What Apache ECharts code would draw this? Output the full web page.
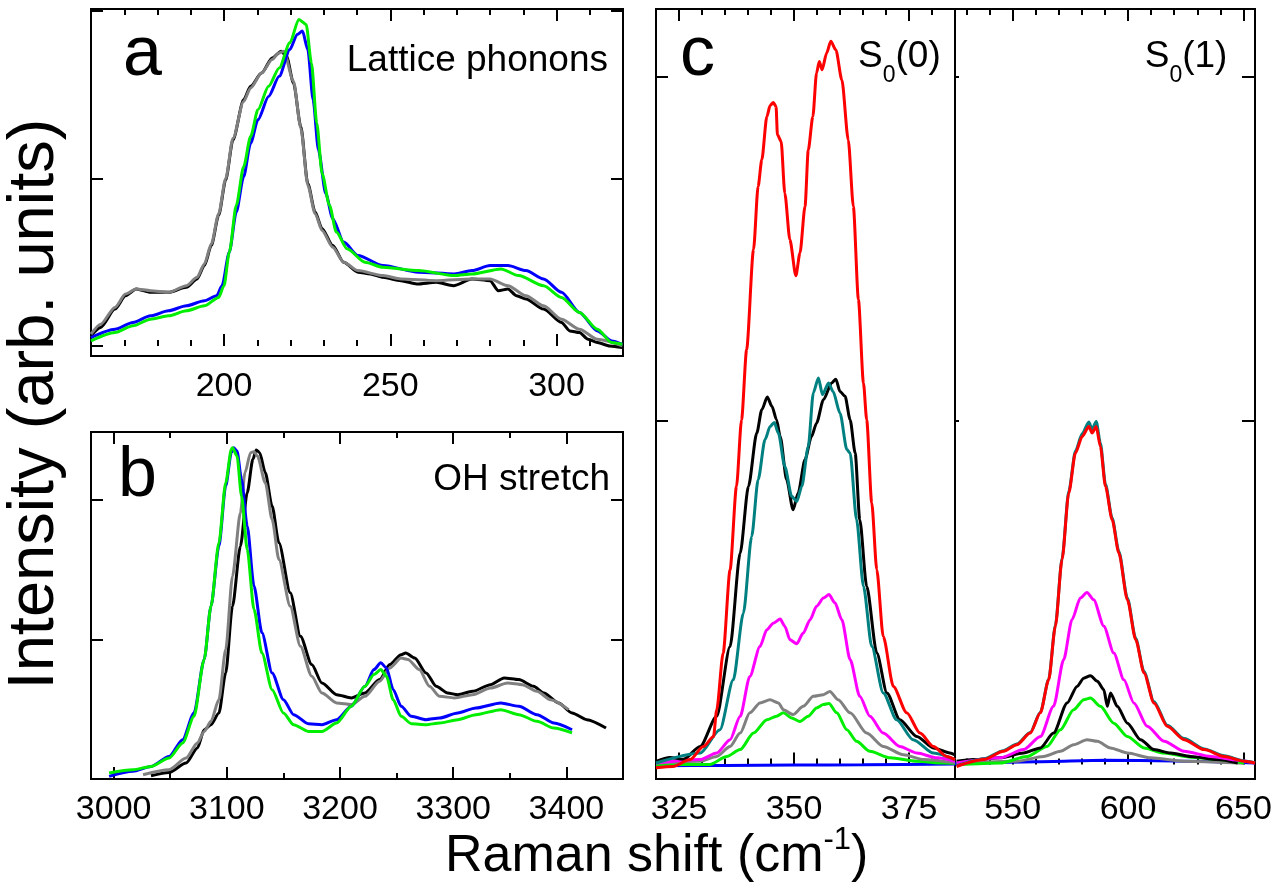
<!DOCTYPE html>
<html><head><meta charset="utf-8">
<script src="https://cdn.jsdelivr.net/npm/echarts@6/dist/echarts.min.js"></script>
<style>html,body{margin:0;padding:0;background:#fff}#c{width:1285px;height:894px}</style>
</head><body><div id="c"></div>
<script>
// ---------- Panel a : Lattice phonons ----------
const aTicksMajor = [200, 250, 300];
const aTicksMinor = [170, 180, 190, 210, 220, 230, 240, 260, 270, 280, 290, 310];
const aBlackX = [160,162.9,167.2,170.4,173.6,177.9,183.3,188.7,191.9,194.1,196.2,198.4,200.5,202.7,205.9,208.0,211.3,214.5,217.2,218.8,220.9,223.1,225.2,227.4,229.5,232.7,236.0,240.3,244.0,247.8,253.2,258.0,263.9,269.0,274.6,280.0,282.5,285.4,288.0,290.8,296.1,301.5,304.0,306.9,309.5,312.3,316.0,319.8];
const aBlackY = [0.06,0.11,0.22,0.30,0.34,0.32,0.32,0.35,0.40,0.48,0.60,0.78,0.99,1.23,1.47,1.55,1.63,1.72,1.76,1.73,1.57,1.31,0.97,0.80,0.70,0.60,0.50,0.44,0.43,0.41,0.39,0.37,0.38,0.36,0.40,0.39,0.33,0.34,0.30,0.28,0.22,0.14,0.09,0.08,0.04,0.02,0.00,-0.01];
const aGrayX = [160,162.9,167.2,170.4,173.6,177.9,183.3,188.7,191.9,194.1,196.2,198.4,200.5,202.7,205.9,208.0,211.3,214.5,216.5,218.0,220.9,223.1,225.2,227.4,229.5,232.7,236.0,240.3,247.8,253.2,263.9,274.6,280.0,285.4,290.8,296.1,301.5,306.9,312.3,319.8];
const aGrayY = [0.07,0.13,0.23,0.31,0.34,0.33,0.32,0.36,0.41,0.49,0.61,0.79,1.00,1.24,1.46,1.54,1.63,1.71,1.75,1.76,1.58,1.30,0.96,0.79,0.69,0.59,0.50,0.45,0.42,0.40,0.39,0.40,0.40,0.36,0.30,0.24,0.16,0.10,0.04,0.00];
const aBlueX = [160,167.2,172.6,177.9,183.3,188.7,194.1,197.8,199.4,201.6,203.7,205.9,208.0,210.2,213.4,216.6,219.8,222.0,223.6,225.2,226.8,228.4,230.6,232.7,236.0,240.3,247.8,258.5,269.3,274.6,280.0,285.4,290.8,296.1,301.5,306.9,312.3,316.6,319.8];
const aBlueY = [0.05,0.10,0.14,0.18,0.21,0.24,0.27,0.30,0.36,0.56,0.80,1.01,1.21,1.35,1.49,1.61,1.77,1.86,1.88,1.77,1.47,1.17,0.91,0.76,0.62,0.54,0.48,0.44,0.43,0.45,0.48,0.48,0.45,0.40,0.32,0.20,0.09,0.03,0.01];
const aGreenX = [160,167.2,172.6,177.9,183.3,188.7,194.1,198.4,200.0,201.6,203.7,205.9,208.0,210.2,213.4,216.6,219.8,222.5,224.7,226.3,227.9,229.5,231.7,233.8,237.0,242.4,247.8,258.5,269.3,274.6,283.3,288.6,296.1,301.5,306.9,312.3,316.6,319.8];
const aGreenY = [0.03,0.08,0.12,0.16,0.18,0.21,0.24,0.29,0.36,0.56,0.84,1.07,1.25,1.41,1.55,1.66,1.81,1.95,1.92,1.69,1.33,1.03,0.84,0.68,0.58,0.50,0.47,0.45,0.42,0.43,0.46,0.42,0.36,0.29,0.20,0.10,0.02,0.01];

// ---------- Panel b : OH stretch ----------
const bTicksMajor = [3000, 3100, 3200, 3300, 3400];
const bTicksMinor = [3050, 3150, 3250, 3350];
const bBlackX = [3033,3049,3064,3074,3080,3086,3093,3099,3105,3112,3118,3123,3126,3129,3134,3140,3146,3156,3165,3175,3184,3197,3210,3222,3235,3244,3254,3258,3266,3276,3285,3295,3304,3317,3333,3345,3358,3371,3380,3393,3405,3418,3435];
const bBlackY = [0.023,0.047,0.114,0.222,0.353,0.389,0.473,0.760,1.238,1.668,2.051,2.290,2.357,2.338,2.194,1.955,1.692,1.334,1.023,0.820,0.688,0.604,0.581,0.616,0.712,0.820,0.891,0.903,0.867,0.760,0.664,0.616,0.604,0.628,0.676,0.724,0.712,0.664,0.616,0.545,0.473,0.425,0.365];
const bGrayX = [3026,3049,3064,3074,3080,3086,3093,3099,3105,3112,3116,3121,3124,3127,3134,3140,3146,3156,3165,3175,3184,3197,3210,3222,3235,3244,3254,3260,3270,3279,3288,3301,3317,3333,3348,3361,3374,3386,3402];
const bGrayY = [0.030,0.066,0.150,0.258,0.341,0.413,0.569,0.927,1.453,1.907,2.194,2.338,2.345,2.314,2.123,1.860,1.573,1.238,0.951,0.736,0.616,0.545,0.533,0.592,0.700,0.796,0.867,0.856,0.784,0.664,0.592,0.581,0.604,0.652,0.688,0.676,0.628,0.568,0.497];
const bBlueX = [2996,3017,3033,3049,3061,3071,3080,3086,3093,3099,3104,3106,3109,3113,3118,3124,3131,3140,3150,3159,3172,3184,3197,3210,3222,3230,3236,3241,3247,3254,3263,3276,3288,3304,3320,3342,3358,3374,3389,3405];
const bBlueY = [0.019,0.055,0.090,0.162,0.282,0.473,0.856,1.238,1.668,2.099,2.338,2.374,2.350,2.147,1.812,1.382,1.047,0.760,0.568,0.461,0.396,0.389,0.425,0.521,0.664,0.784,0.832,0.796,0.640,0.521,0.449,0.425,0.437,0.473,0.509,0.545,0.521,0.461,0.401,0.353];
const bGreenX = [2996,3017,3033,3049,3061,3071,3080,3086,3093,3099,3104,3105,3109,3113,3118,3124,3131,3140,3150,3159,3172,3184,3197,3210,3222,3230,3236,3241,3247,3254,3263,3276,3288,3304,3320,3342,3358,3374,3389,3405];
const bGreenY = [0.043,0.066,0.090,0.150,0.258,0.449,0.856,1.238,1.692,2.123,2.362,2.374,2.314,2.027,1.645,1.214,0.903,0.640,0.473,0.389,0.341,0.341,0.401,0.521,0.664,0.748,0.784,0.736,0.568,0.449,0.396,0.389,0.401,0.425,0.461,0.497,0.461,0.413,0.365,0.330];

// ---------- Panel c, left : S0(0) ----------
const c1TicksMajor = [325, 350, 375];
const c1TicksMinor = [330, 335, 340, 345, 355, 360, 365, 370, 380];
const c1RedX = [320,323.7,327.4,330.3,332.5,333.2,334.6,336.1,337.5,338.6,339.7,341.2,342.2,343.0,344.1,344.8,345.5,346.1,346.4,347.2,348.0,349.1,350.4,351.3,352.4,353.1,354.1,354.9,355.5,356.1,357.1,358.0,359.1,360.4,361.8,362.9,364.0,365.1,365.8,366.9,368.0,369.4,371.6,374.5,377.4,380.3,383.2,385];
const c1RedY = [-0.010,-0.006,0.014,0.052,0.081,0.159,0.324,0.566,0.809,1.003,1.207,1.498,1.682,1.759,1.885,1.917,1.926,1.914,1.832,1.813,1.662,1.527,1.422,1.488,1.624,1.788,1.885,2.012,2.045,2.021,2.070,2.104,2.079,1.992,1.817,1.624,1.353,1.110,1.003,0.761,0.566,0.372,0.227,0.150,0.091,0.052,0.023,0.014];
const c1BlackX = [320,323,326,329.6,333.2,336.1,338.3,340.1,341.9,343.0,344.2,345.2,346.2,347.0,348.4,349.8,350.9,352.4,353.8,354.9,356.4,358.2,359.1,360.0,361.1,362.2,363.3,364.3,365.8,368.0,370.2,373.0,376.7,380.3,383.9,385];
const c1BlackY = [0.009,0.020,0.015,0.052,0.140,0.343,0.615,0.809,0.964,1.032,1.069,1.042,1.003,0.954,0.828,0.741,0.790,0.887,0.954,0.993,1.061,1.110,1.121,1.085,1.071,1.003,0.906,0.712,0.518,0.324,0.208,0.130,0.081,0.048,0.033,0.028];
const c1TealX = [320,329.6,333.9,336.8,339.0,340.8,342.2,343.7,344.8,345.7,346.6,348.0,349.5,350.6,351.7,353.1,354.2,355.3,356.2,357.5,358.5,360.0,361.5,362.2,363.6,365.1,366.9,369.4,372.3,375.9,380.3,385];
const c1TealY = [0.004,0.033,0.101,0.246,0.440,0.663,0.828,0.945,0.983,0.995,0.964,0.867,0.780,0.765,0.809,0.925,1.081,1.124,1.076,1.110,1.085,1.022,0.916,0.906,0.712,0.518,0.343,0.208,0.130,0.072,0.033,0.014];
const c1MagentaX = [320,329.6,333.2,336.1,338.3,340.4,342.6,344.1,345.5,347.0,348.0,349.1,350.6,352.0,353.5,354.9,356.4,357.6,358.9,360.4,362.2,364.3,366.5,369.4,373.0,376.7,381.1,385];
const c1MagentaY = [0.004,0.014,0.033,0.072,0.140,0.256,0.343,0.392,0.411,0.423,0.402,0.363,0.351,0.382,0.421,0.460,0.484,0.494,0.470,0.421,0.305,0.198,0.140,0.091,0.052,0.033,0.019,0.009];
const c1GrayX = [320,329.6,333.2,336.1,338.3,340.4,342.6,344.8,346.6,347.7,349.8,352.0,354.2,356.4,357.8,359.6,362.2,365.8,369.4,373.8,378.1,385];
const c1GrayY = [0.004,0.009,0.023,0.052,0.091,0.150,0.179,0.188,0.179,0.159,0.145,0.169,0.198,0.203,0.212,0.188,0.150,0.091,0.052,0.028,0.014,0.004];
const c1GreenX = [320,331.7,335.4,338.3,341.2,344.1,346.2,347.7,349.5,351.3,353.1,354.9,356.4,357.6,359.3,361.5,363.6,366.5,370.9,376.7,382.5,385];
const c1GreenY = [-0.001,0.000,0.023,0.043,0.091,0.130,0.140,0.150,0.135,0.125,0.140,0.164,0.174,0.177,0.150,0.101,0.067,0.038,0.019,0.009,0.004,0.003];
const c1BlueX = [320,335,350,365,385];
const c1BlueY = [-0.004,-0.003,-0.002,-0.001,0.001];

// ---------- Panel c, right : S0(1) ----------
const c2TicksMajor = [550, 600, 650];
const c2TicksMinor = [530, 540, 560, 570, 580, 590, 610, 620, 630, 640];
const c2RedX = [525.7,537.3,546.0,551.8,557.6,562.0,565.6,568.5,571.4,574.3,577.2,580.1,583.0,584.4,586.2,588.0,590.2,593.1,596.0,599.7,603.3,606.9,611.2,617.0,624.3,633.0,641.7,650.3,655];
const c2RedY = [-0.006,0.014,0.038,0.057,0.091,0.150,0.246,0.402,0.596,0.790,0.906,0.954,0.983,0.964,0.983,0.925,0.809,0.712,0.615,0.479,0.363,0.266,0.179,0.111,0.072,0.043,0.023,0.009,0.004];
const c2TealX = [525.7,537.3,546.0,551.8,557.6,562.0,565.6,568.5,571.4,574.3,577.2,580.1,583.0,584.4,586.2,588.0,590.2,593.1,596.0,599.7,603.3,606.9,611.2,617.0,624.3,633.0,641.7,650.3,655];
const c2TealY = [-0.004,0.016,0.040,0.059,0.093,0.152,0.248,0.405,0.600,0.795,0.912,0.962,0.996,0.975,0.998,0.935,0.816,0.717,0.620,0.484,0.367,0.270,0.183,0.114,0.075,0.045,0.025,0.010,0.005];
const c2MagentaX = [525.7,544.6,554.7,562.0,567.7,572.1,575.7,579.3,582.2,585.1,589.5,593.8,598.2,602.5,608.3,615.6,624.3,635.9,647.5,655];
const c2MagentaY = [0.004,0.019,0.043,0.081,0.169,0.305,0.421,0.484,0.500,0.479,0.402,0.324,0.246,0.179,0.111,0.067,0.038,0.023,0.012,0.004];
const c2BlackX = [525.7,533.0,544.6,554.7,562.0,567.7,573.6,577.9,580.8,583.7,586.7,589.5,591.0,592.4,595.3,599.7,605.4,611.2,618.5,627.2,638.8,647.5];
const c2BlackY = [0.009,0.014,0.019,0.033,0.048,0.091,0.179,0.227,0.251,0.258,0.242,0.217,0.169,0.208,0.169,0.120,0.072,0.043,0.033,0.023,0.014,0.004];
const c2GreenX = [525.7,544.6,556.2,564.9,570.7,576.4,580.8,583.7,588.0,593.8,599.7,606.9,615.6,627.2,638.8,650.3];
const c2GreenY = [-0.001,0.004,0.023,0.052,0.101,0.159,0.188,0.193,0.169,0.120,0.081,0.048,0.033,0.021,0.014,0.004];
const c2GrayX = [525.7,551.8,563.4,570.7,576.4,582.2,586.7,592.4,599.7,609.8,624.3,650.3];
const c2GrayY = [0.004,0.009,0.023,0.038,0.057,0.072,0.067,0.048,0.033,0.019,0.009,0.003];
const c2BlueX = [525,560,590,620,655];
const c2BlueY = [0.002,0.008,0.012,0.010,0.004];

// ---------- chart ----------
const FONT = '"Liberation Sans", Arial, Helvetica, sans-serif';
const K = '#000';
const COL = {black:'#000000', gray:'#808080', blue:'#0000ff', green:'#00ee00', red:'#ff0000', magenta:'#ff00ff', teal:'#008080'};

const chart = echarts.init(document.getElementById('c'), null, {renderer:'canvas', width:1285, height:894});

const grids = [
  {left:91, top:9, width:532, height:347},
  {left:91, top:432, width:532, height:347},
  {left:656, top:9, width:299, height:770},
  {left:955, top:9, width:300, height:770}
].map(g => Object.assign(g, {show:true, borderColor:K, borderWidth:2, backgroundColor:'transparent', containLabel:false, outerBoundsMode:'none'}));

const xAxes = [], yAxes = [];
function xAx(grid, min, max, pos, ticks, len, labels) {
  xAxes.push({type:'value', gridIndex:grid, min:min, max:max, position:pos,
    axisLine:{show:false}, splitLine:{show:false},
    axisTick:{show:true, inside:true, length:len, customValues:ticks, lineStyle:{color:K, width:2}},
    axisLabel: labels ? {show:true, customValues:labels, margin:14, color:K, fontSize:34, fontFamily:FONT, formatter: v => String(v)} : {show:false}
  });
  return xAxes.length - 1;
}
function yAx(grid, min, max, pos, ticks, len) {
  yAxes.push({type:'value', gridIndex:grid, min:min, max:max, position:pos,
    axisLine:{show:false}, splitLine:{show:false},
    axisTick:{show:ticks.length > 0, inside:true, length:len, customValues:ticks.length ? ticks : undefined, lineStyle:{color:K, width:2}},
    axisLabel:{show:false}
  });
  return yAxes.length - 1;
}
function panel(grid, xr, yr, major, minor, yticks, yLeftLen, yRightLen) {
  const xi = xAx(grid, xr[0], xr[1], 'bottom', major, 12, major);
  xAx(grid, xr[0], xr[1], 'bottom', minor, 6, null);
  xAx(grid, xr[0], xr[1], 'top', major, 12, null);
  xAx(grid, xr[0], xr[1], 'top', minor, 6, null);
  const yi = yAx(grid, yr[0], yr[1], 'left', yLeftLen ? yticks : [], yLeftLen);
  yAx(grid, yr[0], yr[1], 'right', yRightLen ? yticks : [], yRightLen);
  return [xi, yi];
}
const pA = panel(0, [160, 320], [-0.06, 2.012], aTicksMajor, aTicksMinor, [0, 1, 2], 12, 12);
const pB = panel(1, [2980, 3450], [0, 2.486], bTicksMajor, bTicksMinor, [1, 2], 12, 12);
const pC1 = panel(2, [320, 385], [-0.0425, 2.198], c1TicksMajor, c1TicksMinor, [1, 2], 12, 0);
const pC2 = panel(3, [525, 655], [-0.0425, 2.198], c2TicksMajor, c2TicksMinor, [1, 2], 4, 13);

function zip(xs, ys) { const n = Math.min(xs.length, ys.length), d = []; for (let i = 0; i < n; i++) d.push([xs[i], ys[i]]); return d; }
const series = [];
function line(p, xs, ys, color) {
  series.push({type:'line', data:zip(xs, ys), xAxisIndex:p[0], yAxisIndex:p[1], showSymbol:false, symbol:'none',
    smooth:0.25, smoothMonotone:'x', lineStyle:{color:color, width:3}, silent:true, animation:false});
}
line(pA, aBlackX, aBlackY, COL.black);
line(pA, aGrayX, aGrayY, COL.gray);
line(pA, aBlueX, aBlueY, COL.blue);
line(pA, aGreenX, aGreenY, COL.green);

line(pB, bBlackX, bBlackY, COL.black);
line(pB, bGrayX, bGrayY, COL.gray);
line(pB, bBlueX, bBlueY, COL.blue);
line(pB, bGreenX, bGreenY, COL.green);

line(pC1, c1BlueX, c1BlueY, COL.blue);
line(pC1, c1GreenX, c1GreenY, COL.green);
line(pC1, c1GrayX, c1GrayY, COL.gray);
line(pC1, c1MagentaX, c1MagentaY, COL.magenta);
line(pC1, c1BlackX, c1BlackY, COL.black);
line(pC1, c1TealX, c1TealY, COL.teal);
line(pC1, c1RedX, c1RedY, COL.red);

line(pC2, c2BlueX, c2BlueY, COL.blue);
line(pC2, c2GrayX, c2GrayY, COL.gray);
line(pC2, c2GreenX, c2GreenY, COL.green);
line(pC2, c2BlackX, c2BlackY, COL.black);
line(pC2, c2MagentaX, c2MagentaY, COL.magenta);
line(pC2, c2TealX, c2TealY, COL.teal);
line(pC2, c2RedX, c2RedY, COL.red);

function txt(s, x, y, size, align, extra) {
  return Object.assign({type:'text', x:x, y:y, silent:true, z:100,
    style:{text:s, x:0, y:0, fill:K, fontSize:size, fontFamily:FONT, align:align || 'left', verticalAlign:'middle', textAlign:align || 'left', textVerticalAlign:'middle'}}, extra || {});
}
const graphic = [
  txt('a', 123, 55.7, 70),
  txt('b', 118, 476.7, 70),
  txt('c', 680, 55.7, 70),
  txt('Lattice phonons', 608, 60.4, 37, 'right'),
  txt('OH stretch', 610, 480, 37, 'right'),
  txt('S', 858, 57.2, 37), txt('0', 882.7, 75.3, 23), txt('(0)', 895.5, 57.2, 37),
  txt('S', 1144.7, 57.2, 37), txt('0', 1169.4, 75.3, 23), txt('(1)', 1182.2, 57.2, 37),
  txt('Intensity (arb. units)', 35.5, 404, 65, 'center', {rotation: Math.PI / 2}),
  txt('Raman shift (cm', 445, 857, 52), txt('-1', 823.5, 840, 31), txt(')', 851, 857, 52)
];

chart.setOption({
  animation:false,
  backgroundColor:'#fff',
  grid:grids, xAxis:xAxes, yAxis:yAxes, series:series, graphic:graphic
});
</script>
</body></html>
